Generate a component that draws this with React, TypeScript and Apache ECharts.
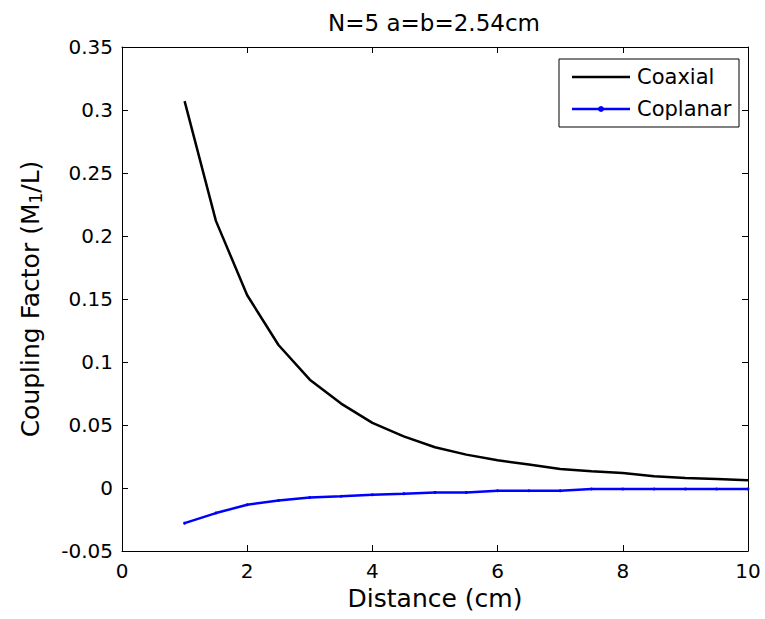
import React, { useEffect, useRef } from "react";
import * as echarts from "echarts";

const distance = [1, 1.5, 2, 2.5, 3, 3.5, 4, 4.5, 5, 5.5, 6, 6.5, 7, 7.5, 8, 8.5, 9, 9.5, 10];
const coaxial = [0.307, 0.212, 0.153, 0.1135, 0.086, 0.067, 0.0517, 0.041, 0.0323, 0.0265, 0.022, 0.0186, 0.0151, 0.0132, 0.0119, 0.0093, 0.008, 0.0072, 0.0061];
const coplanar = [-0.0279, -0.0199, -0.0133, -0.0099, -0.0075, -0.0065, -0.0053, -0.0045, -0.0035, -0.0035, -0.0022, -0.0022, -0.0022, -0.0008, -0.0008, -0.0008, -0.0008, -0.0008, -0.0008];
const seriesNames = ["Coaxial", "Coplanar"];
const seriesColors = ["#000000", "#0000ff"];

const FONT = "DejaVu Sans, Liberation Sans, sans-serif";

export default function App() {
  const ref = useRef<HTMLDivElement>(null);
  useEffect(() => {
    document.body.style.margin = "0";
    const chart = echarts.init(ref.current!, null, { renderer: "svg" });
    const axisCommon = {
      axisLine: { show: true, onZero: false, lineStyle: { color: "#000", width: 1 } },
      axisTick: { show: true, inside: true, length: 6, lineStyle: { color: "#000" } },
      splitLine: { show: false },
    };
    const legendX = 559;
    const legendY = 59;
    const rowY = [77, 109];
    chart.setOption({
      animation: false,
      backgroundColor: "#fff",
      title: {
        text: "N=5 a=b=2.54cm",
        left: 429,
        top: 6,
        textAlign: "center",
        textStyle: { fontFamily: FONT, fontSize: 23, fontWeight: "normal", color: "#000" },
      },
      grid: { left: 122, right: 17, top: 47, bottom: 68 },
      xAxis: [
        {
          type: "value",
          min: 0,
          max: 10,
          interval: 2,
          position: "bottom",
          name: "Distance (cm)",
          nameLocation: "middle",
          nameGap: 28,
          nameTextStyle: { fontFamily: FONT, fontSize: 25, color: "#000" },
          axisLabel: { fontFamily: FONT, fontSize: 20, color: "#000", margin: 10 },
          ...axisCommon,
        },
        {
          type: "value",
          min: 0,
          max: 10,
          interval: 2,
          position: "top",
          axisLabel: { show: false },
          ...axisCommon,
        },
      ],
      yAxis: [
        {
          type: "value",
          min: -0.05,
          max: 0.35,
          interval: 0.05,
          position: "left",
          name: "Coupling Factor (M{sub|1}/L)",
          nameLocation: "middle",
          nameGap: 78,
          nameTextStyle: {
            fontFamily: FONT,
            fontSize: 25,
            color: "#000",
            rich: { sub: { fontFamily: FONT, fontSize: 17, color: "#000", verticalAlign: "bottom", padding: [11, 0, 0, 0] } },
          },
          axisLabel: {
            fontFamily: FONT,
            fontSize: 20,
            color: "#000",
            margin: 9,
            formatter: (v: number) => {
              const r = Math.round(v * 100) / 100;
              return r === 0 ? "0" : String(r);
            },
          },
          ...axisCommon,
        },
        {
          type: "value",
          min: -0.05,
          max: 0.35,
          interval: 0.05,
          position: "right",
          axisLabel: { show: false },
          ...axisCommon,
        },
      ],
      graphic: [
        {
          type: "rect",
          shape: { x: legendX, y: legendY, width: 180, height: 68 },
          style: { fill: "#fff", stroke: "#000", lineWidth: 1 },
          z: 100,
        },
        ...seriesNames.flatMap((name, i) => {
          const items: any[] = [
            {
              type: "line",
              shape: { x1: 572, y1: rowY[i], x2: 630, y2: rowY[i] },
              style: { stroke: seriesColors[i], lineWidth: 2.5 },
              z: 101,
            },
            {
              type: "text",
              x: 637,
              y: rowY[i],
              style: {
                text: name,
                fontFamily: FONT,
                fontSize: 21,
                fill: "#000",
                textVerticalAlign: "middle",
                verticalAlign: "middle",
              },
              z: 101,
            },
          ];
          if (i === 1) {
            items.push({
              type: "circle",
              shape: { cx: 601, cy: rowY[i], r: 3 },
              style: { fill: seriesColors[i] },
              z: 102,
            });
          }
          return items;
        }),
      ],
      series: [
        {
          name: seriesNames[0],
          type: "line",
          data: distance.map((d, i) => [d, coaxial[i]]),
          showSymbol: false,
          symbol: "none",
          lineStyle: { color: seriesColors[0], width: 2.5 },
        },
        {
          name: seriesNames[1],
          type: "line",
          data: distance.map((d, i) => [d, coplanar[i]]),
          symbol: "circle",
          symbolSize: 3,
          lineStyle: { color: seriesColors[1], width: 2.5 },
          itemStyle: { color: seriesColors[1] },
        },
      ],
    });
    return () => chart.dispose();
  }, []);
  return <div ref={ref} style={{ width: 765, height: 619 }} />;
}
